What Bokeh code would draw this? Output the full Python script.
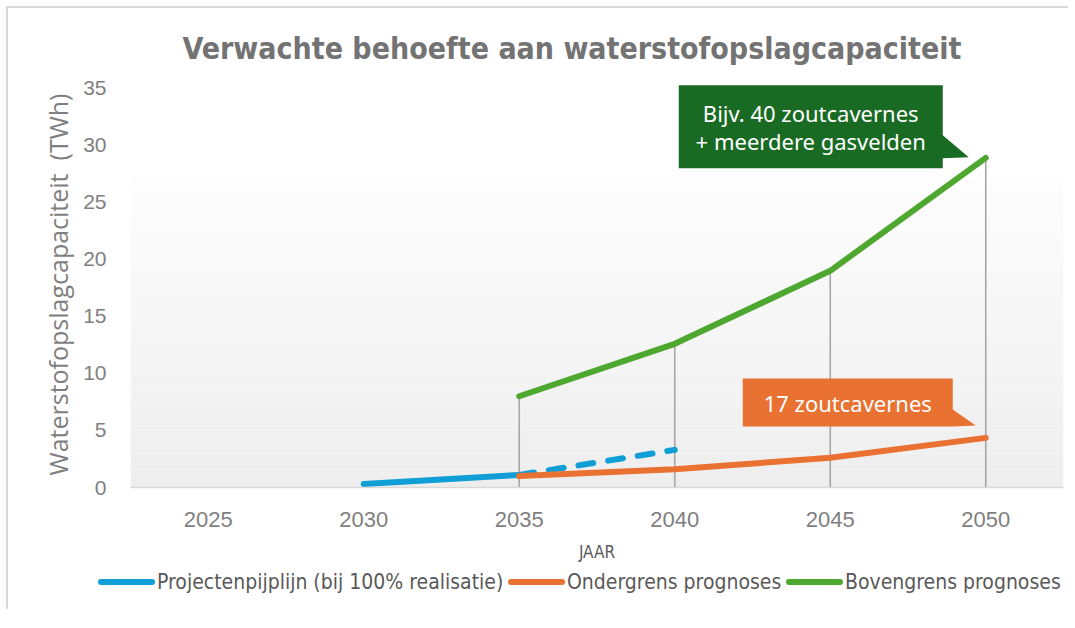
from bokeh.plotting import figure
from bokeh.layouts import column
from bokeh.models import Range1d, FixedTicker, BoxAnnotation, Label, Title, Div
from bokeh.embed import file_html
from bokeh.resources import INLINE

# ---------------- data ----------------
years = [2025, 2030, 2035, 2040, 2045, 2050]
tick_labels = {y: str(y) for y in years}

blue_years = [2030, 2035, 2040]          # solid 2030-2035, dashed 2035-2040
blue_vals = [0.3, 1.1, 3.3]

orange_years = [2035, 2040, 2045, 2050]
orange_vals = [1.0, 1.6, 2.6, 4.35]

green_years = [2035, 2040, 2045, 2050]
green_vals = [8.0, 12.6, 19.0, 28.9]

series_names = ["Projectenpijplijn (bij 100% realisatie)",
                "Ondergrens prognoses", "Bovengrens prognoses"]
title_text = "Verwachte behoefte aan waterstofopslagcapaciteit"
y_label = "Waterstofopslagcapaciteit \u00a0(TWh)"
x_label = "JAAR"
green_note = ["Bijv. 40 zoutcavernes", "+ meerdere gasvelden"]
orange_note = ["17 zoutcavernes"]

BLUE, ORANGE, GREEN, DKGREEN = "#0F9ED5", "#E97132", "#4EA72E", "#196B24"
series_colors = [BLUE, ORANGE, GREEN]
GRAY_TXT = "#7f7f7f"
NARROW = "DejaVu Sans Condensed"

X0, X1 = 2022.5, 2052.5
Y0, Y1 = 0, 35.6
FW, FH = 933, 406
PXX = FW / (X1 - X0)
PXY = FH / (Y1 - Y0)

p = figure(frame_width=FW, frame_height=FH, output_backend="svg",
           toolbar_location=None, x_range=Range1d(X0, X1), y_range=Range1d(Y0, Y1),
           min_border_left=122, min_border_right=5, min_border_top=73,
           min_border_bottom=82, background_fill_color="white",
           border_fill_color="white", outline_line_color=None)

p.title = Title(text=title_text, align="left", text_font=NARROW,
                text_font_size="30px", text_font_style="bold", text_color="#737373",
                standoff=31, offset=52)

# background gradient (style only)
nb = 27
for i in range(nb):
    g = int(round(238 + (253 - 238) * i / (nb - 1)))
    p.add_layout(BoxAnnotation(bottom=27 * i / nb, top=27 * (i + 1) / nb,
                               fill_color="#%02x%02x%02x" % (g, g, g), fill_alpha=1,
                               line_color=None, level="underlay"))

p.xgrid.grid_line_color = None
p.ygrid.grid_line_color = None

# axes
p.xaxis.ticker = FixedTicker(ticks=years)
p.xaxis.major_label_overrides = tick_labels
p.xaxis.axis_line_color = "#d9d9d9"
p.xaxis.axis_line_width = 1.5
p.xaxis.major_tick_line_color = None
p.xaxis.minor_tick_line_color = None
p.xaxis.major_label_standoff = 18
p.xaxis.major_label_text_font = "Liberation Sans"
p.xaxis.major_label_text_font_size = "22px"
p.xaxis.major_label_text_color = GRAY_TXT
p.xaxis.axis_label = x_label
p.xaxis.axis_label_text_font = NARROW
p.xaxis.axis_label_text_font_style = "normal"
p.xaxis.axis_label_text_font_size = "17px"
p.xaxis.axis_label_text_color = "#595959"
p.xaxis.axis_label_standoff = 12

p.yaxis.ticker = FixedTicker(ticks=list(range(0, 36, 5)))
p.yaxis.axis_line_color = None
p.yaxis.major_tick_line_color = None
p.yaxis.minor_tick_line_color = None
p.yaxis.major_label_standoff = 18
p.yaxis.major_label_text_font = "Liberation Sans"
p.yaxis.major_label_text_font_size = "21px"
p.yaxis.major_label_text_color = GRAY_TXT
p.yaxis.axis_label = y_label
p.yaxis.axis_label_text_font = "Open Sans"
p.yaxis.axis_label_text_font_style = "normal"
p.yaxis.axis_label_text_font_size = "25px"
p.yaxis.axis_label_text_color = GRAY_TXT
p.yaxis.axis_label_standoff = 5

# drop lines
p.segment(x0=green_years, y0=[0] * len(green_years), x1=green_years, y1=green_vals,
          line_color="#a6a6a6", line_width=1.6)

# series
p.line(blue_years[:2], blue_vals[:2], line_color=BLUE, line_width=6, line_cap="round")
p.line(blue_years[1:], blue_vals[1:], line_color=BLUE, line_width=6, line_cap="round",
       line_dash="15 15")
p.line(orange_years, orange_vals, line_color=ORANGE, line_width=6, line_cap="round",
       line_join="round")
p.line(green_years, green_vals, line_color=GREEN, line_width=6, line_cap="round",
       line_join="round")


def pt(ax, ay, dx, dy):
    return ax + dx / PXX, ay - dy / PXY


def callout(ax, ay, box, ptr, color, lines, text_x, text_ys):
    l, r, t, b = box
    (p1x, p1y), (tx, ty), (p2x, p2y) = ptr
    poly = [(l, t), (r, t), (p1x, p1y), (tx, ty), (p2x, p2y), (r, b), (l, b)]
    xs, ys = zip(*[pt(ax, ay, dx, dy) for dx, dy in poly])
    p.patch(list(xs), list(ys), fill_color=color, line_color=None)
    for line, ty_ in zip(lines, text_ys):
        lx, ly = pt(ax, ay, text_x, ty_)
        p.add_layout(Label(x=lx, y=ly, text=line, text_align="center",
                           text_baseline="middle", text_color="white",
                           text_font="Noto Sans", text_font_size="22px"))


callout(green_years[-1], green_vals[-1], (-307, -43, -72.7, 10.3),
        [(-43, -22.7), (-17, -0.7), (-43, 0.3)], DKGREEN, green_note, -175, [-44.7, -16.7])
callout(orange_years[-1], orange_vals[-1], (-243, -33, -59.3, -11.3),
        [(-33, -28.3), (-10, -12.3), (-33, -11.3)], ORANGE, orange_note, -138, [-35.3])

# ---------------- legend strip (HTML below the chart) ----------------
item_starts = [90, 500, 778]     # layout: swatch left edge per legend item (px)
SW = 57                          # swatch length (px)
parts = ['<div style="position:relative;width:1060px;height:40px;'
         "font-family:'DejaVu Sans Condensed',sans-serif;font-size:21px;color:#595959;\">"]
for s, c, name in zip(item_starts, series_colors, series_names):
    parts.append('<span style="position:absolute;left:%dpx;top:10px;width:%dpx;height:6px;'
                 'border-radius:3px;background:%s;"></span>' % (s, SW, c))
    parts.append('<span style="position:absolute;left:%dpx;top:2px;line-height:22px;'
                 'white-space:nowrap;">%s</span>' % (s + SW + 2, name))
parts.append("</div>")
lg = Div(text="".join(parts), width=1060, height=40, margin=(0, 0, 0, 0))

layout = column(p, lg, spacing=0,
                styles={"margin-left": "6px", "margin-top": "6px",
                        "border-top": "2px solid #d9d9d9", "border-left": "2px solid #d9d9d9"})

open("out.html", "w").write(file_html(layout, INLINE))
